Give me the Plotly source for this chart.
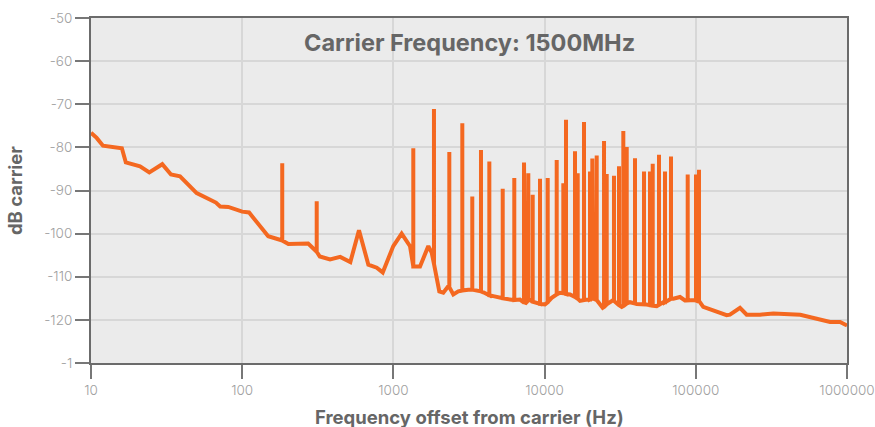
import plotly.graph_objects as go

# Noise-floor (non-spur) points: offset frequency (Hz) and level (dBc)
noise_freq = [10, 10.9, 12.0, 16.0, 17.0, 21.1, 24.3, 29.6, 33.8, 38.8, 50.0, 61.3, 67.0, 71.5,
              80.9, 100, 111, 148.6, 202, 273, 326, 381, 445, 519, 592, 683, 776, 850, 998,
              1134, 1288, 1500, 1702, 1792, 2012, 2138, 2307, 2490, 2687, 3129, 3931, 4579,
              6209, 6877, 7421, 8008, 10060, 11140, 12640, 14720, 17140, 19580, 20990, 24230,
              28470, 32360, 36710, 40650, 46130, 55130, 60960, 71000, 78620, 84840, 98790,
              112000, 137500, 160000, 168300, 196000, 217000, 266000, 326000, 491000, 773000,
              900000, 984000, 1000000]
noise_db = [-76.6, -77.8, -79.6, -80.2, -83.5, -84.4, -85.8, -83.9, -86.3, -86.7, -90.6, -92.1,
            -92.8, -93.7, -93.8, -94.9, -95.1, -100.6, -102.4, -102.3, -105.3, -106.0, -105.4,
            -106.6, -99.2, -107.2, -107.9, -109.0, -102.9, -100.0, -102.9, -107.6, -102.9,
            -104.4, -113.4, -113.7, -112.2, -114.1, -113.4, -113.0, -113.6, -114.5, -115.4,
            -115.3, -116.3, -115.4, -116.4, -114.9, -113.7, -114.1, -115.6, -115.3, -115.1,
            -117.2, -115.4, -117.0, -115.9, -116.3, -116.4, -116.8, -115.9, -115.1, -114.7,
            -115.5, -115.4, -117.0, -118.1, -118.9, -118.8, -117.2, -118.8, -118.8, -118.5,
            -118.8, -120.5, -120.5, -121.2, -121.3]

# Spurs: frequency (Hz), peak level (dBc), floor level at the spur (dBc)
spur_freq = [184, 311, 1354, 1855, 2343, 2856, 3325, 3796, 4310, 5284, 6303, 7309, 7803, 8342,
             9325, 10483, 12023, 13298, 13855, 15887, 16557, 18223, 19970, 20680, 22110, 24720,
             25750, 28770, 31060, 33160, 34930, 39620, 45440, 49790, 51880, 57100, 62560, 68550,
             88400, 100300, 105000]
spur_peak = [-83.7, -92.5, -80.2, -71.1, -81.1, -74.4, -91.4, -80.6, -83.3, -89.6, -87.1, -83.5,
             -86.0, -91.0, -87.3, -87.1, -82.9, -88.3, -73.6, -80.9, -86.0, -74.1, -85.6, -82.6,
             -81.9, -78.5, -86.2, -86.6, -84.4, -76.2, -79.9, -82.5, -85.6, -85.6, -83.8, -81.7,
             -85.6, -82.1, -86.3, -86.3, -85.2]
spur_floor = [-101.6, -104.2, -107.6, -107.0, -112.4, -113.2, -113.0, -113.4, -114.3, -115.0,
              -115.4, -116.0, -115.5, -115.8, -116.3, -115.9, -114.1, -113.8, -114.0, -114.7,
              -115.1, -115.4, -115.3, -115.1, -115.4, -117.0, -116.4, -115.6, -116.6, -116.8,
              -116.2, -116.2, -116.4, -116.6, -116.7, -116.5, -115.9, -115.1, -115.5, -115.5,
              -115.6]

y_tick_vals = [-50, -60, -70, -80, -90, -100, -110, -120, -130]
y_tick_text = ["-50", "-60", "-70", "-80", "-90", "-100", "-110", "-120", "-1"]
x_tick_vals = [10, 100, 1000, 10000, 100000, 1000000]
x_tick_text = ["10", "100", "1000", "10000", "100000", "1000000"]

# Merge noise floor and spurs into one trace, ordered by frequency
events = [(f, 0, [d]) for f, d in zip(noise_freq, noise_db)]
events += [(f, 1, [b, p, b]) for f, p, b in zip(spur_freq, spur_peak, spur_floor)]
events.sort(key=lambda e: (e[0], e[1]))
xs, ys = [], []
for f, _, vals in events:
    for v in vals:
        xs.append(f)
        ys.append(v)

ORANGE = "#f46820"
FONT = "Inter"

fig = go.Figure()
fig.add_trace(go.Scatter(x=xs, y=ys, mode="lines",
                         line=dict(color=ORANGE, width=4),
                         hoverinfo="skip"))

axis_common = dict(
    showline=True, linecolor="#6b6b6b", linewidth=2, mirror=True,
    ticks="outside", ticklen=14, tickwidth=1.5, tickcolor="#777777",
    showgrid=True, gridcolor="#d7d7d7", gridwidth=1.5,
    tickfont=dict(family=FONT, size=13.5, color="#a0a0a0", weight=300),
    zeroline=False, automargin=False,
)

fig.update_layout(
    width=875, height=427,
    margin=dict(l=91, r=28, t=18, b=64),
    paper_bgcolor="white", plot_bgcolor="#ebebeb",
    showlegend=False,
    font=dict(family=FONT),
    xaxis=dict(type="log", range=[1, 6], tickvals=x_tick_vals, ticktext=x_tick_text,
               **axis_common),
    yaxis=dict(range=[-130, -50], tickvals=y_tick_vals, ticktext=y_tick_text,
               **axis_common),
    annotations=[
        dict(text="<b>Carrier Frequency: 1500MHz</b>", xref="paper", yref="paper",
             x=0.5, y=0.930, xanchor="center", yanchor="middle", showarrow=False,
             font=dict(family=FONT, size=23.5, color="#666666")),
        dict(text="<b>Frequency offset from carrier (Hz)</b>", xref="paper", yref="paper",
             x=0.5, y=-0.1565, xanchor="center", yanchor="middle", showarrow=False,
             font=dict(family=FONT, size=18.5, color="#666666")),
        dict(text="<b>dB carrier</b>", xref="paper", yref="paper",
             x=-0.1006, y=0.501, xanchor="center", yanchor="middle", showarrow=False,
             textangle=-90, font=dict(family=FONT, size=18.5, color="#666666")),
    ],
)

fig.write_html("out.html", config={"displayModeBar": False},
               post_script="document.body.style.margin='0';")
